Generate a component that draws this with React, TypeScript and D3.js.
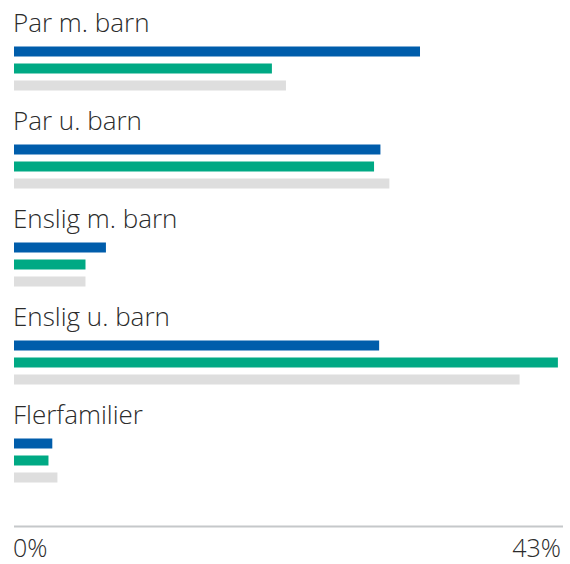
import React from 'react';
import * as d3 from 'd3';

const categories = ['Par m. barn', 'Par u. barn', 'Enslig m. barn', 'Enslig u. barn', 'Flerfamilier'];
const seriesKeys = ['a', 'b', 'c'];
const seriesA = [31.8, 28.7, 7.2, 28.6, 3.0];
const seriesB = [20.2, 28.2, 5.6, 42.6, 2.7];
const seriesC = [21.3, 29.4, 5.6, 39.6, 3.4];
const axisLabels = ['0%', '43%'];
const axisMax = 43;

const colors = { a: '#005dab', b: '#00a984', c: '#dedede' };

const App = () => {
  const width = 570;
  const height = 564;
  const values = { a: seriesA, b: seriesB, c: seriesC };

  const x = d3.scaleLinear().domain([0, axisMax]).range([14, 563]);
  const y = d3.scaleBand().domain(categories).range([0, 490]);
  const inner = d3.scaleBand().domain(seriesKeys).range([46.5, 90.5]).paddingInner(7 / 17).paddingOuter(0);

  const axisY = 526.5;
  const font = '"Open Sans", Lato, sans-serif';

  return (
    <svg
      width={width}
      height={height}
      style={{ position: 'absolute', left: 0, top: 0, fontFamily: font }}
    >
      {categories.map((cat, i) => (
        <g key={cat} transform={`translate(0,${y(cat)})`}>
          <text x={13} y={31.5} fontSize={26} fill="#2b2b2b" fontWeight={300}>
            {cat}
          </text>
          {seriesKeys.map((k) => (
            <rect
              key={k}
              x={x(0)}
              y={inner(k)}
              width={x(values[k][i]) - x(0)}
              height={inner.bandwidth()}
              fill={colors[k]}
            />
          ))}
        </g>
      ))}
      <line x1={x(0)} x2={x(axisMax)} y1={axisY} y2={axisY} stroke="#c5c8ca" strokeWidth={2} />
      <text x={x(0) - 1} y={557} fontSize={25} fill="#2b2b2b" fontWeight={300}>
        {axisLabels[0]}
      </text>
      <text x={x(axisMax) - 2} y={557} fontSize={25} fill="#2b2b2b" fontWeight={300} textAnchor="end">
        {axisLabels[1]}
      </text>
    </svg>
  );
};

export default App;
